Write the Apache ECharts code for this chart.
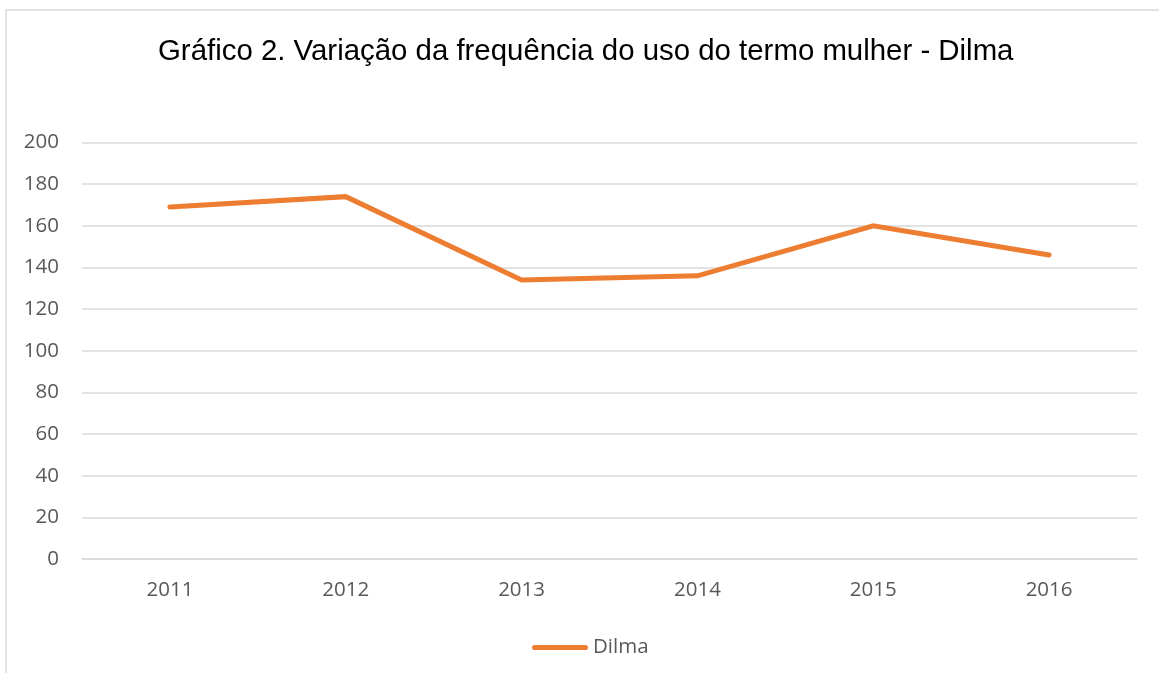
<!DOCTYPE html>
<html>
<head>
<meta charset="utf-8">
<script src="https://cdn.jsdelivr.net/npm/echarts@6/dist/echarts.min.js"></script>
<style>
html,body{margin:0;padding:0;background:#fff;}
#chart{width:1159px;height:673px;}
</style>
</head>
<body>
<div id="chart"></div>
<script>
var titleText = 'Gráfico 2. Variação da frequência do uso do termo mulher - Dilma';
var categories = ['2011', '2012', '2013', '2014', '2015', '2016'];
var dilmaValues = [169, 174, 134, 136, 160, 146];
var seriesName = 'Dilma';
var yMin = 0, yMax = 200, yInterval = 20;

var chart = echarts.init(document.getElementById('chart'), null, {renderer: 'canvas'});
chart.setOption({
  backgroundColor: '#ffffff',
  animation: false,
  graphic: [{
    type: 'rect',
    shape: {x: 6, y: 10, width: 1300, height: 1000},
    style: {fill: 'none', stroke: '#d9d9d9', lineWidth: 1.5},
    silent: true
  }],
  title: {
    text: titleText,
    left: 153,
    top: 32,
    textStyle: {fontFamily: 'Liberation Sans, Arial, sans-serif', fontSize: 29.4, fontWeight: 'normal', color: '#000000'}
  },
  legend: {
    data: [seriesName],
    top: 632,
    left: 527,
    itemWidth: 56,
    itemHeight: 5,
    itemGap: 10,
    icon: 'path://M2.5,0 L53.5,0 A2.5,2.5 0 0 1 53.5,5 L2.5,5 A2.5,2.5 0 0 1 2.5,0 Z',
    textStyle: {fontFamily: 'Open Sans, sans-serif', fontSize: 20.5, color: '#595959'}
  },
  grid: {left: 82, right: 22, top: 142.5, bottom: 114, containLabel: false},
  xAxis: {
    type: 'category',
    data: categories,
    boundaryGap: true,
    axisLine: {show: true, lineStyle: {color: '#d9d9d9', width: 1.5}},
    axisTick: {show: false},
    axisLabel: {margin: 21, fontFamily: 'Open Sans, sans-serif', fontSize: 20.5, color: '#595959'}
  },
  yAxis: {
    type: 'value',
    min: yMin, max: yMax, interval: yInterval,
    axisLine: {show: false},
    axisTick: {show: false},
    splitLine: {lineStyle: {color: '#d9d9d9', width: 1.5}},
    axisLabel: {margin: 23, fontFamily: 'Open Sans, sans-serif', fontSize: 20.5, color: '#595959'}
  },
  series: [{
    name: seriesName,
    type: 'line',
    data: dilmaValues,
    symbol: 'none',
    smooth: false,
    itemStyle: {color: '#ED7D31'},
    lineStyle: {color: '#ED7D31', width: 5, cap: 'round', join: 'miter'}
  }]
});
</script>
</body>
</html>
